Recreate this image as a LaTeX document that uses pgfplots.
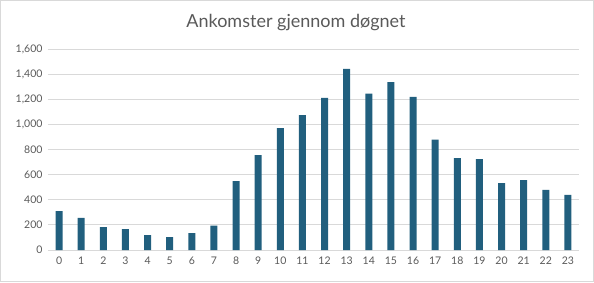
\documentclass[border=0pt]{standalone}
\usepackage{pgfplots}
\pgfplotsset{compat=1.18}
\usepackage{fontspec}
\setmainfont{Lato}
\definecolor{barc}{RGB}{33,95,126}
\definecolor{txt}{RGB}{89,89,89}
\definecolor{gridc}{RGB}{217,217,217}
\begin{document}
\begin{tikzpicture}[x=1pt,y=1pt]
\path[use as bounding box] (0,0) rectangle (594,282);
\draw[gridc,line width=0.8pt] (0.4,0.4) rectangle (593.6,281.6);
\node[text=txt,font=\fontsize{18}{20}\selectfont] at (296,259) {Ankomster gjennom døgnet};
\begin{axis}[
  at={(48pt,32pt)}, anchor=south west,
  scale only axis, width=531pt, height=201pt,
  xmin=-0.5, xmax=23.5, ymin=0, ymax=1600,
  ytick={0,200,...,1600},
  xtick={0,...,23},
  ybar, bar width=7pt,
  axis line style={draw=none},
  axis x line*=bottom,
  x axis line style={draw=gridc,line width=0.8pt},
  ymajorgrids, grid style={gridc,line width=0.8pt},
  major tick length=0pt,
  tick label style={text=txt,font=\fontsize{10.5}{12}\selectfont},
  /pgf/number format/assume math mode=true,
  /pgf/number format/1000 sep={,},
  yticklabel style={xshift=-2pt},
  xticklabel style={yshift=-3pt},
  axis y line=left, y axis line style={draw=none},
]
\addplot[fill=barc,draw=none] coordinates {
(0,310) (1,255) (2,183) (3,167) (4,119) (5,103) (6,135) (7,194)
(8,549) (9,756) (10,971) (11,1074) (12,1210) (13,1441) (14,1244)
(15,1337) (16,1218) (17,878) (18,732) (19,724) (20,533) (21,557)
(22,478) (23,438)};
\end{axis}
\end{tikzpicture}
\end{document}
